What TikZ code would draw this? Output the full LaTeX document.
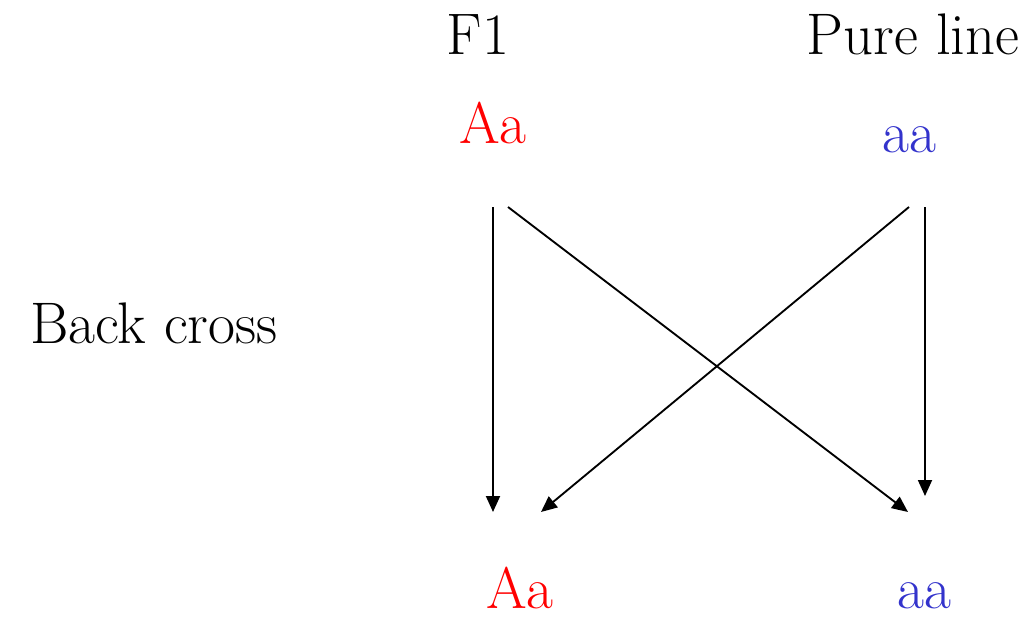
\documentclass[tikz,border=0pt]{standalone}
\usetikzlibrary{arrows.meta,positioning}
\definecolor{alleleRed}{RGB}{255,0,0}
\definecolor{alleleBlue}{RGB}{51,51,204}

\begin{document}
\begin{tikzpicture}[x=0.75pt,y=-0.75pt,
  label/.style={inner sep=0pt,anchor=base,text depth=0pt,font=\fontsize{44}{48}\selectfont},
  cross/.style={line width=1.4pt,-{Triangle[length=12pt,width=10.5pt]}}]
\useasboundingbox (0,0) rectangle (1036,621);
% headings
\node[label] (f1) at (478,55) {F1};
\node[label] (pure) at (913,55) {Pure line};
\node[label] (back) at (154,343) {Back cross};
% parents
\node[label,text=alleleRed] (pAa) at (493,143) {Aa};
\node[label,text=alleleBlue] (paa) at (909,152) {aa};
% offspring
\node[label,text=alleleRed] (oAa) at (520,608) {Aa};
\node[label,text=alleleBlue] (oaa) at (924,608) {aa};
% arrow ends
\coordinate (s1) at (493,207);
\coordinate (s2) at (508,207);
\coordinate (s3) at (909,207);
\coordinate (s4) at (925,207);
\coordinate (e1) at (493,512);
\coordinate (e2) at (908,512);
\coordinate (e3) at (541,512);
\coordinate (e4) at (925,496);
\draw[cross] (s1) -- (e1);
\draw[cross] (s2) -- (e2);
\draw[cross] (s3) -- (e3);
\draw[cross] (s4) -- (e4);
\end{tikzpicture}
\end{document}
